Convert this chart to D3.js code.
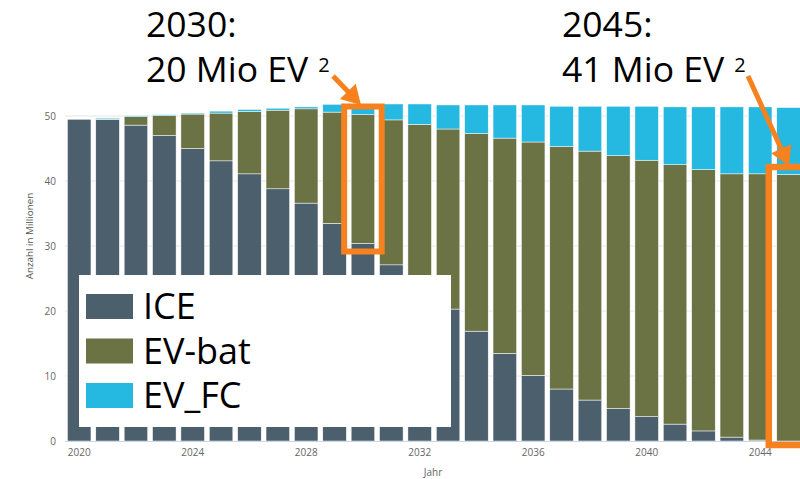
<!DOCTYPE html>
<html>
<head>
<meta charset="utf-8">
<script src="https://cdn.jsdelivr.net/npm/d3@7"></script>
<style>
  body { margin: 0; background: #fff; }
  svg { display: block; font-family: "Open Sans", sans-serif; }
</style>
</head>
<body>
<svg width="800" height="479"></svg>
<script>
// Jahre
var years = [2020, 2021, 2022, 2023, 2024, 2025, 2026, 2027, 2028, 2029, 2030, 2031, 2032,
  2033, 2034, 2035, 2036, 2037, 2038, 2039, 2040, 2041, 2042, 2043, 2044, 2045];

// Anzahl in Millionen
var ice = [49.5, 49.5, 48.6, 47.0, 45.0, 43.1, 41.1, 38.8, 36.6, 33.5, 30.4, 27.1, 23.7,
  20.3, 16.9, 13.5, 10.1, 8.0, 6.3, 5.0, 3.75, 2.6, 1.55, 0.6, 0.15, 0];
var evBat = [0, 0.05, 1.3, 3.05, 5.3, 7.35, 9.6, 12.1, 14.5, 17.1, 19.8, 22.3, 25.0,
  27.7, 30.4, 33.1, 35.9, 37.3, 38.3, 38.9, 39.45, 39.9, 40.2, 40.5, 40.95, 41.0];
var evFc = [0, 0.15, 0.15, 0.15, 0.15, 0.3, 0.3, 0.3, 0.3, 1.2, 1.6, 2.45, 3.15,
  3.7, 4.4, 5.1, 5.7, 6.2, 6.9, 7.6, 8.3, 8.9, 9.65, 10.3, 10.3, 10.3];

var seriesNames = ["ICE", "EV-bat", "EV_FC"];
var seriesColors = ["#4b5f6d", "#6b7244", "#25b8e0"];
var yTicks = [0, 10, 20, 30, 40, 50];
var xTickYears = [2020, 2024, 2028, 2032, 2036, 2040, 2044];

var svg = d3.select("svg");

var rows = years.map(function(y, i) {
  return { year: y, "ICE": ice[i], "EV-bat": evBat[i], "EV_FC": evFc[i] };
});
var stacked = d3.stack().keys(seriesNames)(rows);

// plot laeuft rechts ueber den Rand hinaus (Bild ist abgeschnitten)
var x = d3.scaleBand()
  .domain(years)
  .range([65, 65 + years.length * 28.375])
  .paddingInner(0.17)
  .paddingOuter(0.085);

var y = d3.scaleLinear().domain([0, 50]).range([441, 116]);

// gitter
svg.append("g")
  .selectAll("line")
  .data(yTicks.slice(1))
  .enter()
  .append("line")
  .attr("x1", 65)
  .attr("x2", 800)
  .attr("y1", function(d) { return y(d); })
  .attr("y2", function(d) { return y(d); })
  .attr("stroke", "#e6e6e6")
  .attr("stroke-width", 1);

// y achse
var yAxis = svg.append("g")
  .attr("transform", "translate(56,0)")
  .call(d3.axisLeft(y).tickValues(yTicks).tickSize(0).tickPadding(0));
yAxis.select(".domain").remove();
yAxis.selectAll("text")
  .attr("fill", "#666")
  .attr("font-size", 10)
  .attr("font-family", "Open Sans, sans-serif");

svg.append("text")
  .attr("transform", "translate(33,236) rotate(-90)")
  .attr("text-anchor", "middle")
  .attr("fill", "#555")
  .attr("font-size", 9.8)
  .text("Anzahl in Millionen");

// balken
svg.append("g")
  .selectAll("g")
  .data(stacked)
  .enter()
  .append("g")
  .attr("fill", function(d, i) { return seriesColors[i]; })
  .selectAll("rect")
  .data(function(d) { return d; })
  .enter()
  .append("rect")
  .attr("x", function(d) { return x(d.data.year); })
  .attr("width", x.bandwidth())
  .attr("y", function(d) { return y(d[1]); })
  .attr("height", function(d) { return y(d[0]) - y(d[1]); })
  .attr("stroke", "#fff")
  .attr("stroke-width", 0.5);

// x achse
svg.append("line")
  .attr("x1", 65).attr("x2", 800)
  .attr("y1", 441.5).attr("y2", 441.5)
  .attr("stroke", "#ccd6eb");

var xAxis = svg.append("g")
  .attr("transform", "translate(0,449)")
  .call(d3.axisBottom(x).tickValues(xTickYears).tickSize(0).tickPadding(0));
xAxis.select(".domain").remove();
xAxis.selectAll("text")
  .attr("fill", "#666")
  .attr("font-size", 10)
  .attr("font-family", "Open Sans, sans-serif");

svg.append("text")
  .attr("x", 433)
  .attr("y", 476)
  .attr("text-anchor", "middle")
  .attr("fill", "#666")
  .attr("font-size", 10)
  .text("Jahr");

// legende
var legend = svg.append("g");
legend.append("rect")
  .attr("x", 79).attr("y", 275)
  .attr("width", 372).attr("height", 152)
  .attr("fill", "#fff");

var item = legend.selectAll("g")
  .data(seriesNames)
  .enter()
  .append("g")
  .attr("transform", function(d, i) { return "translate(86," + (294 + i * 44.5) + ")"; });
item.append("rect")
  .attr("width", 47).attr("height", 25)
  .attr("fill", function(d, i) { return seriesColors[i]; });
item.append("text")
  .attr("x", 57)
  .attr("y", 25)
  .attr("font-size", 36)
  .attr("fill", "#000")
  .text(function(d) { return d; });

// annotationen
var orange = "#f5821f";

function note(x0, line1, line2) {
  var t = svg.append("text")
    .attr("font-size", 35.5)
    .attr("fill", "#000");
  t.append("tspan").attr("x", x0).attr("y", 37).text(line1);
  t.append("tspan").attr("x", x0).attr("y", 82).text(line2);
  t.append("tspan").attr("dx", 10).attr("dy", -10).attr("font-size", 20).text("2");
}
note(146, "2030:", "20 Mio EV");
note(562, "2045:", "41 Mio EV");

// pfeil mit gefuellter spitze
function arrow(x1, y1, x2, y2) {
  var dx = x2 - x1, dy = y2 - y1;
  var len = Math.sqrt(dx * dx + dy * dy);
  var ux = dx / len, uy = dy / len;
  var hl = 19, hw = 11;
  var bx = x2 - ux * hl, by = y2 - uy * hl;
  svg.append("line")
    .attr("x1", x1).attr("y1", y1).attr("x2", bx + ux * 2).attr("y2", by + uy * 2)
    .attr("stroke", orange).attr("stroke-width", 5);
  svg.append("path")
    .attr("d", "M" + x2 + "," + y2 +
      "L" + (bx - uy * hw) + "," + (by + ux * hw) +
      "L" + (bx + uy * hw) + "," + (by - ux * hw) + "Z")
    .attr("fill", orange);
}

arrow(333, 76, 361, 105);
svg.append("rect")
  .attr("x", x(2030) - 7).attr("y", 106.5)
  .attr("width", x.bandwidth() + 14).attr("height", 145)
  .attr("fill", "none").attr("stroke", orange).attr("stroke-width", 6);

arrow(748, 76, 789, 166);
svg.append("rect")
  .attr("x", x(2045) - 8).attr("y", 167)
  .attr("width", x.bandwidth() + 20).attr("height", 278)
  .attr("fill", "none").attr("stroke", orange).attr("stroke-width", 6.5);
</script>
</body>
</html>
